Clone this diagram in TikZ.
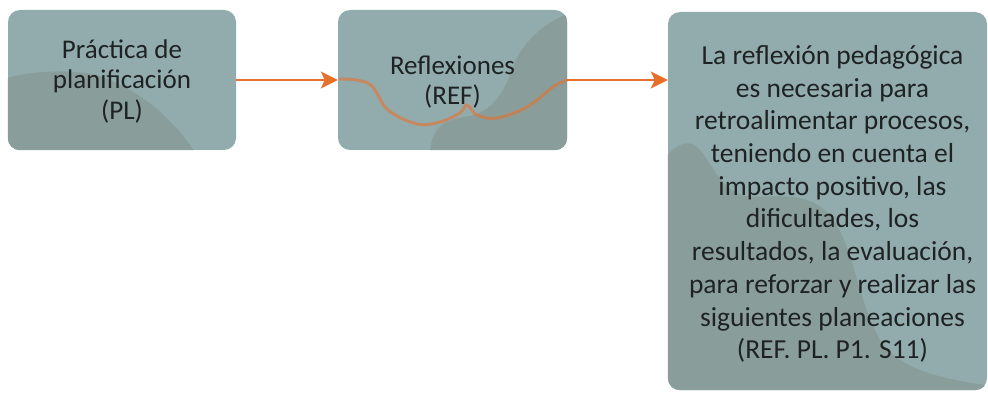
\documentclass[tikz,border=0pt]{standalone}
\usepackage{fontspec}
\setmainfont{Carlito}
\usetikzlibrary{arrows.meta}
\definecolor{boxfill}{RGB}{146,172,174}
\definecolor{boxshade}{RGB}{137,158,154}
\definecolor{linkorange}{RGB}{232,112,44}
\definecolor{ink}{RGB}{30,34,34}
\tikzset{
  card/.style={rounded corners=12pt, fill=boxfill, minimum width=#1, inner sep=0pt},
  cardtext/.style={text=ink, align=center, font=\fontsize{27}{30.5}\selectfont},
  link/.style={draw=linkorange, line width=2.4pt, -{Stealth[length=17pt,width=17pt,inset=4pt]}},
}
\begin{document}
\begin{tikzpicture}[x=1pt,y=-1pt]
\useasboundingbox (0,0) rectangle (988,393);

% boxes
\node[card=228pt, minimum height=140pt] (pl)  at (122,80) {};
\node[card=229pt, minimum height=140pt] (ref) at (452.5,80) {};
\node[card=319pt, minimum height=378pt] (res) at (827.5,201) {};

% shaded patches inside the boxes
\begin{scope}
  \clip[rounded corners=12pt] (pl.south west) rectangle (pl.north east);
  \fill[boxshade] (0,80) .. controls (30,70) and (80,68) .. (105,78)
     .. controls (140,92) and (170,115) .. (195,152) -- (0,152) -- cycle;
\end{scope}
\begin{scope}
  \clip[rounded corners=12pt] (ref.south west) rectangle (ref.north east);
  \fill[boxshade] (572,12) .. controls (545,22) and (525,40) .. (515,62)
     .. controls (505,90) and (495,110) .. (470,116)
     .. controls (440,120) and (432,130) .. (430,152) -- (575,152) -- cycle;
\end{scope}
\begin{scope}
  \clip[rounded corners=12pt] (res.south west) rectangle (res.north east);
  \fill[boxshade] (665,158) .. controls (675,145) and (688,138) .. (698,148)
     .. controls (712,162) and (720,190) .. (745,196)
     .. controls (770,200) and (810,185) .. (835,222)
     .. controls (855,255) and (858,300) .. (880,340)
     .. controls (900,372) and (950,380) .. (992,386) -- (992,395) -- (665,395) -- cycle;
\end{scope}

% wavy trace across the middle box
\draw[linkorange, line width=3pt, opacity=0.6, line cap=round]
  plot[smooth, tension=0.6] coordinates {(340,79) (356,80) (372,86) (388,110) (417,124) (440,122)
  (460,113) (467,105) (477,115) (497,118) (527,107) (553,87) (567,80)};

% texts
\node[cardtext] at ([yshift=-1pt]pl.center) {Práctica de\\planificación\\(PL)};
\node[cardtext] at ([yshift=-2pt]ref.center) {Reflexiones\\(REF)};
\node[cardtext, font=\fontsize{27.5}{32.7}\selectfont] at ([xshift=5pt,yshift=-3pt]res.center) {La reflexión pedagógica\\es necesaria para\\retroalimentar procesos,\\teniendo en cuenta el\\impacto positivo, las\\dificultades, los\\resultados, la evaluación,\\para reforzar y realizar las\\siguientes planeaciones\\(REF. PL. P1. S11)};

% connectors
\draw[link] (pl.east) -- (ref.west);
\draw[link] (ref.east) -- (ref.east -| res.west);
\end{tikzpicture}
\end{document}
